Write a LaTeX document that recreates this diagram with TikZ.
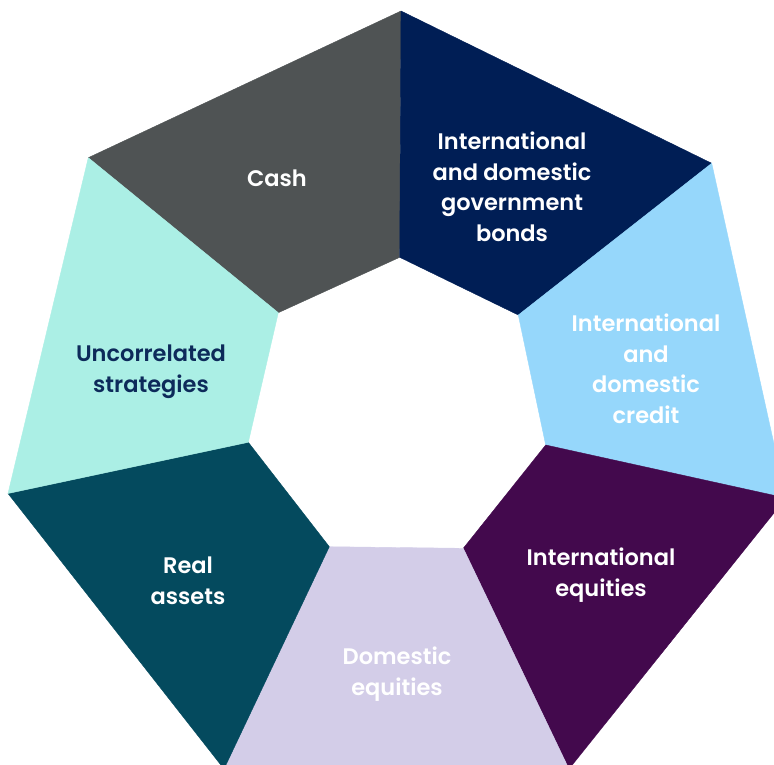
\documentclass[tikz,border=0pt]{standalone}
\usepackage{fontspec}
\newfontfamily\lab{Poppins}[UprightFont=* SemiBold]
\definecolor{cGray}{HTML}{4F5354}
\definecolor{cNavy}{HTML}{001E55}
\definecolor{cSky}{HTML}{96D7FB}
\definecolor{cPlum}{HTML}{43094D}
\definecolor{cLav}{HTML}{D3CDE8}
\definecolor{cTeal}{HTML}{044A5E}
\definecolor{cMint}{HTML}{ABEFE5}
\definecolor{cText}{HTML}{0D2A5A}
\tikzset{
  seg/.style={fill=#1, draw=#1, line width=0.4pt, line join=round},
  lbl/.style={font=\lab\fontsize{22.5}{30.5}\selectfont, align=center, text=white, inner sep=0pt}
}
\begin{document}
\begin{tikzpicture}[x=1pt,y=-1pt]
\useasboundingbox (0,0) rectangle (774,765);
\clip (0,0) rectangle (774,765);
% outer vertices
\coordinate (O1) at (401,11);
\coordinate (O2) at (711.7,163.3);
\coordinate (O3) at (786,498);
\coordinate (O4) at (569,769);
\coordinate (O5) at (224,769);
\coordinate (O6) at (8,493.5);
\coordinate (O7) at (88.3,157.7);
% inner vertices
\coordinate (I1) at (399.7,257.3);
\coordinate (I2) at (518.3,315);
\coordinate (I3) at (545.7,445);
\coordinate (I4) at (463.3,548.3);
\coordinate (I5) at (329.3,546.7);
\coordinate (I6) at (248.3,442.3);
\coordinate (I7) at (278.3,312.7);
\path[seg=cGray] (O7) -- (O1) -- (I1) -- (I7) -- cycle;
\path[seg=cNavy] (O1) -- (O2) -- (I2) -- (I1) -- cycle;
\path[seg=cSky] (O2) -- (O3) -- (I3) -- (I2) -- cycle;
\path[seg=cPlum] (O3) -- (O4) -- (I4) -- (I3) -- cycle;
\path[seg=cLav] (O4) -- (O5) -- (I5) -- (I4) -- cycle;
\path[seg=cTeal] (O5) -- (O6) -- (I6) -- (I5) -- cycle;
\path[seg=cMint] (O6) -- (O7) -- (I7) -- (I6) -- cycle;
\node[lbl] (cash) at (277,178.5) {Cash};
\node[lbl] (bonds) at (512,187) {International\\and domestic\\government\\bonds};
\node[lbl] (credit) at (646,369) {International\\and\\domestic\\credit};
\node[lbl] (intl) at (601,575) {International\\equities};
\node[lbl] (dom) at (397,674) {Domestic\\equities};
\node[lbl] (real) at (188,581) {Real\\assets};
\node[lbl, text=cText] (unc) at (151,371.5) {Uncorrelated\\strategies};
\end{tikzpicture}
\end{document}
